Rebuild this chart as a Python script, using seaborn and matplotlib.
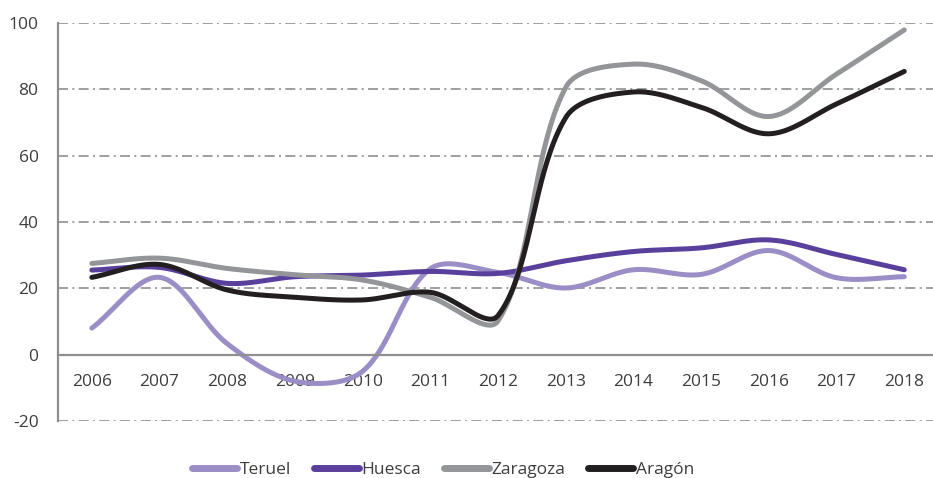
import numpy as np
import pandas as pd
import matplotlib
matplotlib.use("Agg")
import matplotlib.pyplot as plt
import seaborn as sns
from matplotlib.lines import Line2D

years = [2006, 2007, 2008, 2009, 2010, 2011, 2012, 2013, 2014, 2015, 2016, 2017, 2018]
teruel = [8.0, 23.3, 3.3, -8.0, -5.0, 25.9, 24.8, 20.1, 25.6, 24.2, 31.4, 23.2, 23.5]
huesca = [25.5, 26.3, 21.5, 23.5, 24.0, 25.1, 24.5, 28.3, 31.1, 32.2, 34.6, 30.2, 25.6]
zaragoza = [27.5, 29.1, 26.0, 24.1, 22.5, 17.3, 10.2, 80.6, 87.6, 82.6, 71.8, 84.6, 97.9]
aragon = [23.3, 27.2, 19.5, 17.3, 16.5, 18.8, 11.8, 71.5, 79.2, 74.6, 66.6, 75.6, 85.4]
series_names = ["Teruel", "Huesca", "Zaragoza", "Aragón"]
series_values = [teruel, huesca, zaragoza, aragon]
colors = ["#9b8dc6", "#5b3f9d", "#939598", "#231f20"]
yticks = [-20, 0, 20, 40, 60, 80, 100]

# figure geometry (pixels)
W, H = 933, 478
left, right, top, bot = 58, 933, 23, 421
px_x = 67.7                      # pixels per category
px_y = (bot - top) / 120.0       # pixels per value unit


def smooth(xs, ys, n=40, tension=1 / 3):
    # Excel-like smoothed line: cubic Bezier with chord-length weighted tangents
    P = np.column_stack([np.asarray(xs, float) * px_x, np.asarray(ys, float) * px_y])
    m = len(P)
    after, before = [], []
    for i in range(m):
        pp = P[max(i - 1, 0)]
        pn = P[min(i + 1, m - 1)]
        d1 = np.linalg.norm(P[i] - pp)
        d2 = np.linalg.norm(pn - P[i])
        tot = d1 + d2 if d1 + d2 > 0 else 1.0
        after.append(P[i] + (pn - pp) * tension * d2 / tot)
        before.append(P[i] - (pn - pp) * tension * d1 / tot)
    out = []
    for i in range(m - 1):
        p1, c1, c2, p2 = P[i], after[i], before[i + 1], P[i + 1]
        t = np.linspace(0, 1, n, endpoint=(i == m - 2))[:, None]
        seg = ((1 - t) ** 3) * p1 + 3 * ((1 - t) ** 2) * t * c1 + 3 * (1 - t) * t ** 2 * c2 + t ** 3 * p2
        out.append(seg)
    pts = np.vstack(out)
    return pts[:, 0] / px_x, pts[:, 1] / px_y


pos = np.arange(len(years))
frames = []
for name, vals in zip(series_names, series_values):
    sx, sy = smooth(pos, vals)
    frames.append(pd.DataFrame({"x": sx, "y": sy, "serie": name}))
df = pd.concat(frames, ignore_index=True)

sns.set_style("white")
plt.rcParams["font.family"] = ["Open Sans", "DejaVu Sans"]

fig = plt.figure(figsize=(9.33, 4.78), dpi=100)
ax = fig.add_axes([left / W, (H - bot) / H, (right - left) / W, (bot - top) / H])

grid_color = "#8f8f8f"
for v in yticks:
    if v != 0:
        ax.axhline(v, color=grid_color, lw=1.2, linestyle=(0, (6, 2.6, 1.2, 2.6)), zorder=0)

sns.lineplot(data=df, x="x", y="y", hue="serie", hue_order=series_names,
             palette=dict(zip(series_names, colors)), sort=False, estimator=None,
             units="serie", linewidth=3.6, ax=ax, legend=False)
for ln in ax.get_lines()[-len(series_names):]:
    ln.set_solid_capstyle("round")

ax.set_xlim(-0.5, (right - left) / px_x - 0.5)
ax.set_ylim(-20, 100)
ax.set_xlabel("")
ax.set_ylabel("")

for s in ["top", "right"]:
    ax.spines[s].set_visible(False)
ax.spines["bottom"].set_position(("data", 0))
ax.spines["bottom"].set_color(grid_color)
ax.spines["bottom"].set_linewidth(1.6)
ax.spines["left"].set_color(grid_color)
ax.spines["left"].set_linewidth(1.6)

txt = "#3d3d3d"
ax.set_xticks(pos)
ax.set_xticklabels([str(y) for y in years])
ax.set_xticks(np.arange(0.5, len(years) - 0.5, 1.0), minor=True)
ax.tick_params(axis="x", which="major", length=0, pad=14, labelsize=12.5, labelcolor=txt)
ax.tick_params(axis="x", which="minor", length=4, width=1.4, color=grid_color, direction="out")
ax.set_yticks(yticks)
ax.set_yticklabels([str(v) for v in yticks])
ax.tick_params(axis="y", length=0, pad=14, labelsize=12.5, labelcolor=txt)

handles = [Line2D([0], [0], color=c, lw=5, solid_capstyle="round") for c in colors]
fig.legend(handles, series_names, loc="center", bbox_to_anchor=(443 / W, 1 - 470 / H),
           ncol=4, frameon=False, fontsize=12.5, handlelength=2.6, handletextpad=0.15,
           columnspacing=1.3, labelcolor=txt)

fig.savefig("out.png", dpi=100)
